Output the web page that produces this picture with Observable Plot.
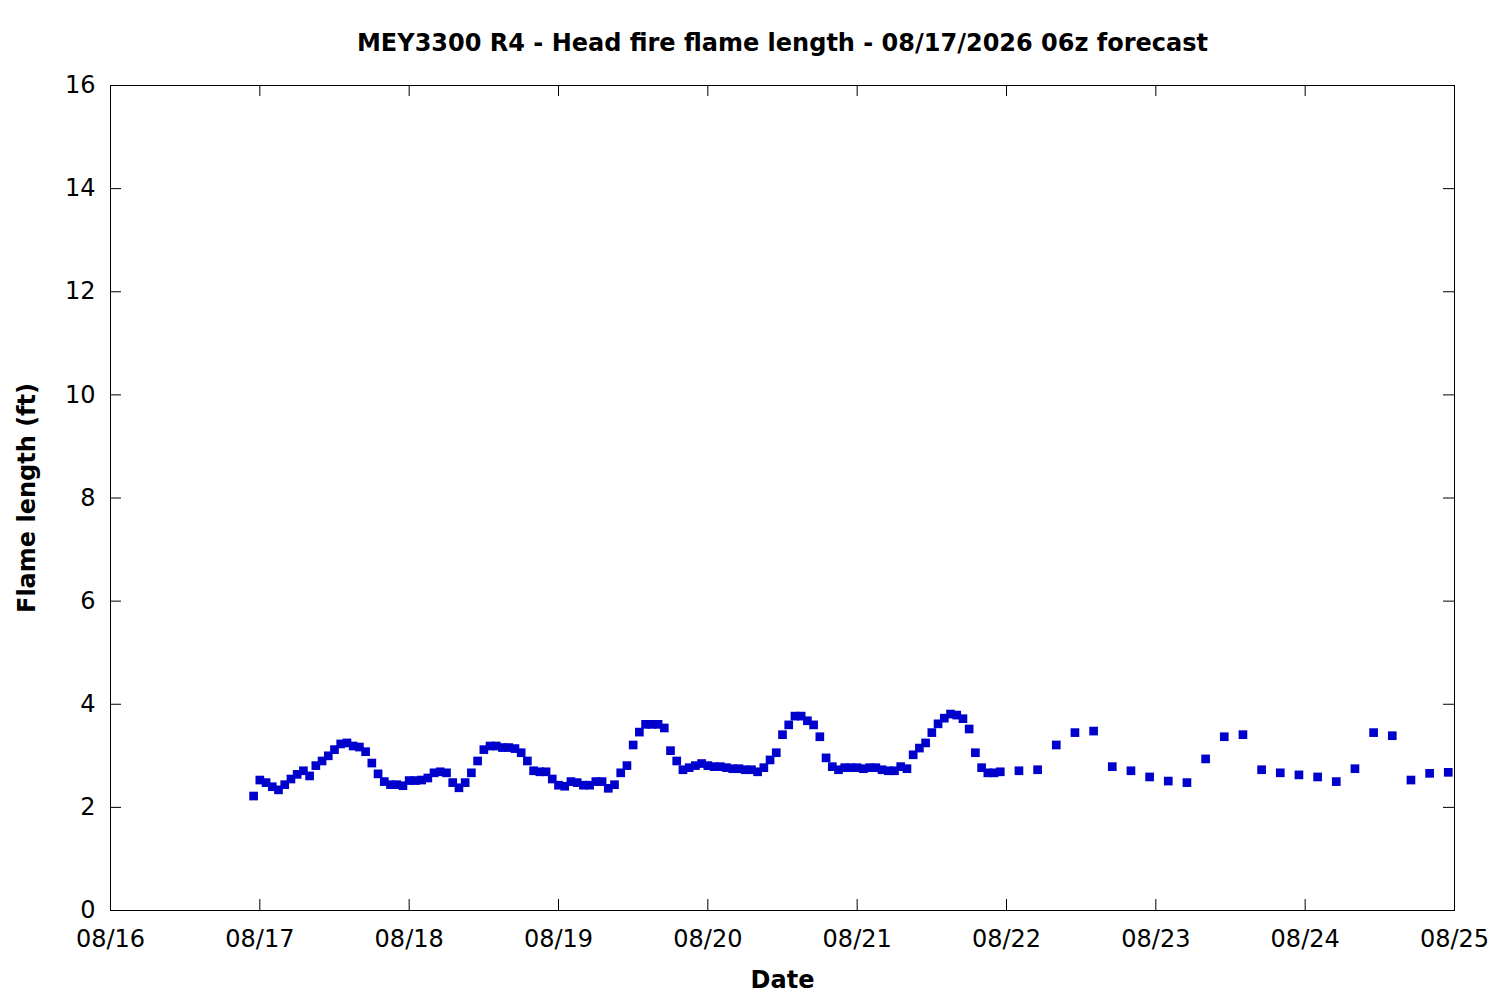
<!DOCTYPE html>
<html>
<head>
<meta charset="utf-8">
<script src="https://cdn.jsdelivr.net/npm/d3@7"></script>
<script src="https://cdn.jsdelivr.net/npm/@observablehq/plot@0.6"></script>
<style>
  html, body { margin: 0; padding: 0; background: #ffffff; }
  #chart { width: 1500px; height: 1000px; }
</style>
</head>
<body>
<div id="chart"></div>
<script>
const titleText = "MEY3300 R4 - Head fire flame length - 08/17/2026 06z forecast";
const xLabel = "Date";
const yLabel = "Flame length (ft)";

// Hourly forecast, starting 08/16 23:00
const hourlyStart = "2026-08-16T23:00:00Z";
const hourlyValues = [
  2.22, 2.53, 2.48, 2.40, 2.34, 2.44, 2.55, 2.64, 2.71, 2.61,
  2.81, 2.90, 3.00, 3.12, 3.23, 3.25, 3.19, 3.17, 3.08, 2.86,
  2.65, 2.50, 2.44, 2.44, 2.42, 2.52, 2.52, 2.53, 2.57, 2.67,
  2.69, 2.67, 2.48, 2.38, 2.48, 2.67, 2.90, 3.12, 3.19, 3.19,
  3.16, 3.16, 3.14, 3.06, 2.90, 2.71, 2.69, 2.69, 2.55, 2.43,
  2.41, 2.50, 2.48, 2.43, 2.43, 2.50, 2.50, 2.37, 2.44, 2.67,
  2.81, 3.21, 3.46, 3.61, 3.61, 3.61, 3.54, 3.10, 2.90, 2.73,
  2.77, 2.81, 2.85, 2.81, 2.79, 2.79, 2.77, 2.75, 2.75, 2.73,
  2.73, 2.69, 2.77, 2.92, 3.06, 3.41, 3.60, 3.77, 3.77, 3.68,
  3.60, 3.37, 2.96, 2.79, 2.73, 2.77, 2.77, 2.77, 2.75, 2.77,
  2.77, 2.73, 2.71, 2.71, 2.79, 2.75, 3.02, 3.15, 3.25, 3.45,
  3.62, 3.73, 3.81, 3.79, 3.72, 3.52, 3.06, 2.77, 2.67, 2.67,
  2.69
];

// 3-hourly forecast, starting 08/22 02:00
const threeHourlyStart = "2026-08-22T02:00:00Z";
const threeHourlyValues = [
  2.71, 2.73, 3.21, 3.45, 3.48, 2.79, 2.71, 2.59, 2.51, 2.48,
  2.94, 3.37, 3.41, 2.73, 2.67, 2.63, 2.59, 2.50, 2.75, 3.45,
  3.39, 2.53, 2.66, 2.68
];

const xDomain = ["2026-08-16T00:00:00Z", "2026-08-25T00:00:00Z"];
const yDomain = [0, 16];
const yTicks = [0, 2, 4, 6, 8, 10, 12, 14, 16];

const h0 = new Date(hourlyStart);
const t0 = new Date(threeHourlyStart);
const data = [
  ...hourlyValues.map((v, i) => ({date: d3.utcHour.offset(h0, i), value: v})),
  ...threeHourlyValues.map((v, i) => ({date: d3.utcHour.offset(t0, 3 * i), value: v}))
];
const xd = xDomain.map(s => new Date(s));
const dayTicks = d3.utcDay.range(xd[0], d3.utcDay.offset(xd[1], 1));

const W = 1500, H = 1000;
const mL = 110, mR = 46, mT = 85, mB = 90;
const innerW = W - mL - mR, innerH = H - mT - mB;
const tickLen = 11;
const blue = "#0000cc";
const fs = 24;

const chart = Plot.plot({
  width: W,
  height: H,
  marginLeft: mL,
  marginRight: mR,
  marginTop: mT,
  marginBottom: mB,
  style: {fontFamily: "DejaVu Sans", fontSize: fs + "px", color: "#000", background: "#fff"},
  x: {type: "utc", domain: xd},
  y: {domain: yDomain},
  marks: [
    // inward ticks on all four sides
    Plot.tickX(dayTicks, {x: d => d, insetTop: innerH - tickLen, stroke: "#000", strokeWidth: 1}),
    Plot.tickX(dayTicks, {x: d => d, insetBottom: innerH - tickLen, stroke: "#000", strokeWidth: 1}),
    Plot.tickY(yTicks, {y: d => d, insetRight: innerW - tickLen, stroke: "#000", strokeWidth: 1}),
    Plot.tickY(yTicks, {y: d => d, insetLeft: innerW - tickLen, stroke: "#000", strokeWidth: 1}),
    Plot.axisX(dayTicks, {tickSize: 0, tickPadding: 19, tickFormat: d3.utcFormat("%m/%d"), label: null, fontSize: fs}),
    Plot.axisY(yTicks, {tickSize: 0, tickPadding: 15, tickFormat: d => String(d), label: null, fontSize: fs}),
    Plot.frame({stroke: "#000", strokeWidth: 1}),
    Plot.dot(data, {x: "date", y: "value", symbol: "square", r: 4.9, fill: blue, stroke: "none"}),
    Plot.text([titleText], {frameAnchor: "top", dy: -42, text: d => d, fontWeight: "bold", fontSize: fs, lineAnchor: "middle", textAnchor: "middle"}),
    Plot.text([xLabel], {frameAnchor: "bottom", dy: 70, text: d => d, fontWeight: "bold", fontSize: fs, lineAnchor: "middle", textAnchor: "middle"}),
    Plot.text([yLabel], {frameAnchor: "left", dx: -83, rotate: -90, text: d => d, fontWeight: "bold", fontSize: fs, lineAnchor: "middle", textAnchor: "middle"})
  ]
});
document.getElementById("chart").appendChild(chart);
</script>
</body>
</html>
